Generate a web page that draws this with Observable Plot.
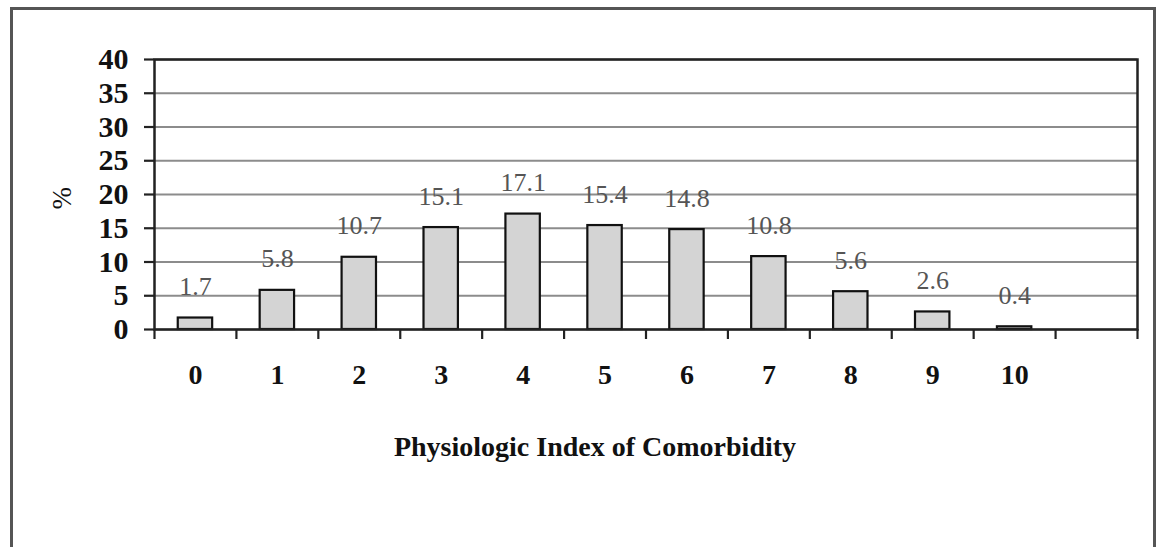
<!DOCTYPE html>
<html>
<head>
<meta charset="utf-8">
<script src="https://cdn.jsdelivr.net/npm/d3@7"></script>
<script src="https://cdn.jsdelivr.net/npm/@observablehq/plot@0.6"></script>
<style>
  html, body { margin: 0; padding: 0; background: #fff; }
  #wrap { position: relative; width: 1159px; height: 547px; overflow: hidden; }
  #box { position: absolute; left: 10px; top: 7px; width: 1146px; height: 600px; border: 3px solid #555; box-sizing: border-box; pointer-events: none; }
  #chart { position: absolute; left: 0; top: 0; }
</style>
</head>
<body>
<div id="wrap"><div id="chart"></div><div id="box"></div></div>
<script>
const categories = ["0", "1", "2", "3", "4", "5", "6", "7", "8", "9", "10"];
const values = [1.7, 5.8, 10.7, 15.1, 17.1, 15.4, 14.8, 10.8, 5.6, 2.6, 0.4];
const yTicks = [0, 5, 10, 15, 20, 25, 30, 35, 40];
const xTitle = "Physiologic Index of Comorbidity";
const yTitle = "%";

const data = categories.map((c, i) => ({ k: +c, label: c, v: values[i] }));
// 12 slots (0..10 plus one empty slot), boundaries between slots
const slotCount = categories.length + 1;
const boundaries = d3.range(slotCount + 1).map(i => i - 0.5);
const centers = data.map(d => d.k);

const serif = "'Liberation Serif', 'Times New Roman', Times, serif";

const chart = Plot.plot({
  width: 1159,
  height: 547,
  marginLeft: 154,
  marginRight: 22,
  marginTop: 59,
  marginBottom: 218,
  style: { fontFamily: serif, background: "transparent", color: "#111" },
  x: { type: "linear", domain: [-0.5, slotCount - 0.5] },
  y: { domain: [0, 40] },
  marks: [
    Plot.gridY(yTicks, { stroke: "#8c8c8c", strokeOpacity: 1, strokeWidth: 2 }),
    Plot.rectY(data, {
      x1: d => d.k - 0.21, x2: d => d.k + 0.21, y: "v",
      fill: "#d4d4d4", stroke: "#111", strokeWidth: 2.2
    }),
    Plot.text(data, {
      x: "k", y: "v", text: d => d.v.toFixed(1), dy: -23, lineAnchor: "bottom",
      fill: "#555", fontSize: 26, fontFamily: serif
    }),
    Plot.frame({ stroke: "#222", strokeWidth: 2.5 }),
    Plot.axisY(yTicks, {
      tickSize: 10, tickPadding: 16, fontSize: 30, fontWeight: "bold",
      label: null, stroke: "#222", strokeWidth: 2.2, fill: "#111"
    }),
    Plot.axisX(boundaries, {
      tickSize: 10, tickFormat: () => "", label: null, stroke: "#222", strokeWidth: 2.2
    }),
    Plot.axisX(centers, {
      tickSize: 0, tickPadding: 35, fontSize: 28, fontWeight: "bold", label: null,
      tickFormat: k => categories[k], fill: "#111"
    }),
    Plot.text([xTitle], {
      frameAnchor: "bottom", dx: -51, dy: 126, lineAnchor: "bottom", text: d => d,
      fontSize: 28, fontWeight: "bold", fill: "#111", fontFamily: serif
    }),
    Plot.text([yTitle], {
      frameAnchor: "left", dx: -92, dy: 15, rotate: -90, text: d => d,
      fontSize: 27, fill: "#111", fontFamily: serif
    })
  ]
});
document.getElementById("chart").appendChild(chart);
</script>
</body>
</html>
